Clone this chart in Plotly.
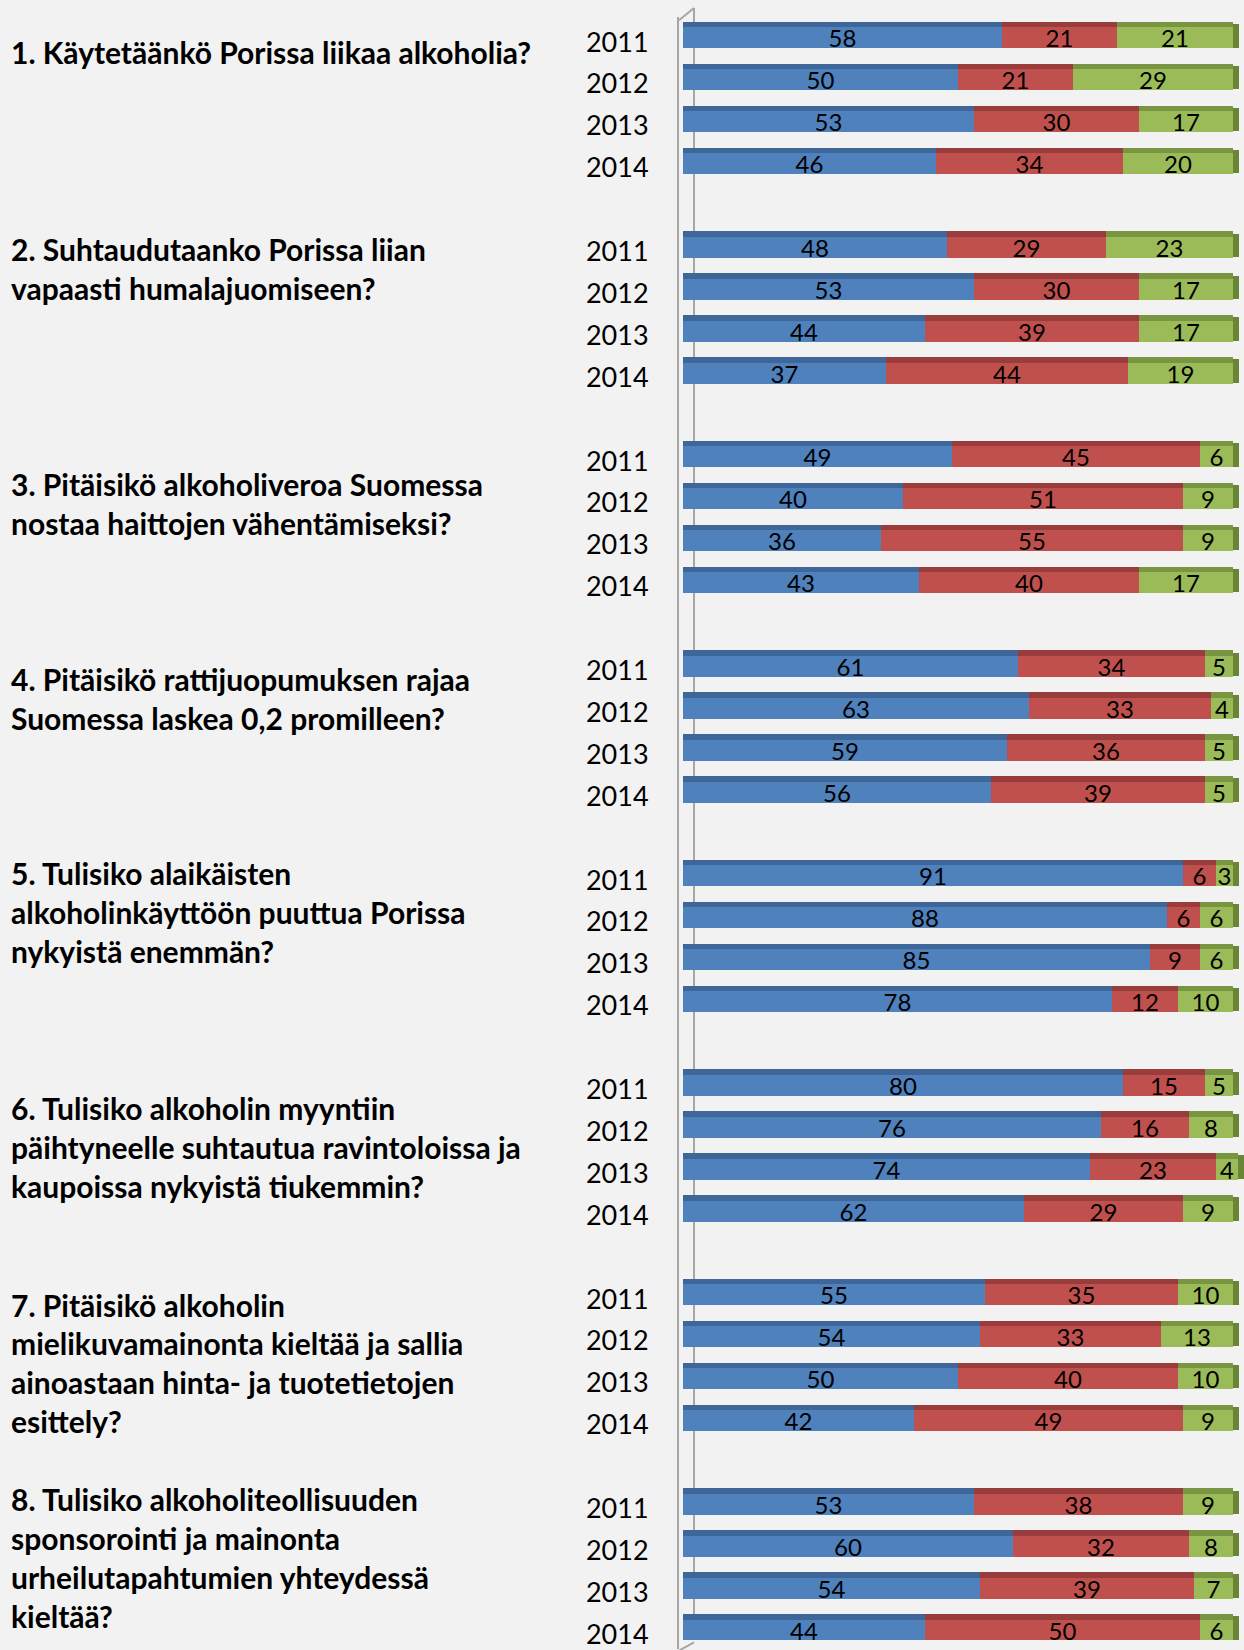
import plotly.graph_objects as go

# ---------------- data ----------------
years = ["2011", "2012", "2013", "2014"]
questions = [
    ["1. Käytetäänkö Porissa liikaa alkoholia?"],
    ["2. Suhtaudutaanko Porissa liian", "vapaasti humalajuomiseen?"],
    ["3. Pitäisikö alkoholiveroa Suomessa", "nostaa haittojen vähentämiseksi?"],
    ["4. Pitäisikö rattijuopumuksen rajaa", "Suomessa laskea 0,2 promilleen?"],
    ["5. Tulisiko alaikäisten", "alkoholinkäyttöön puuttua Porissa", "nykyistä enemmän?"],
    ["6. Tulisiko alkoholin myyntiin", "päihtyneelle suhtautua ravintoloissa ja", "kaupoissa nykyistä tiukemmin?"],
    ["7. Pitäisikö alkoholin", "mielikuvamainonta kieltää ja sallia", "ainoastaan hinta- ja tuotetietojen", "esittely?"],
    ["8. Tulisiko alkoholiteollisuuden", "sponsorointi ja mainonta", "urheilutapahtumien yhteydessä", "kieltää?"],
]
blue_vals = [
    [58, 50, 53, 46], [48, 53, 44, 37], [49, 40, 36, 43], [61, 63, 59, 56],
    [91, 88, 85, 78], [80, 76, 74, 62], [55, 54, 50, 42], [53, 60, 54, 44],
]
red_vals = [
    [21, 21, 30, 34], [29, 30, 39, 44], [45, 51, 55, 40], [34, 33, 36, 39],
    [6, 6, 9, 12], [15, 16, 23, 29], [35, 33, 40, 49], [38, 32, 39, 50],
]
green_vals = [
    [21, 29, 17, 20], [23, 17, 17, 19], [6, 9, 9, 17], [5, 4, 5, 5],
    [3, 6, 6, 10], [5, 8, 4, 9], [10, 13, 10, 9], [9, 8, 7, 6],
]

# ---------------- layout helpers ----------------
SLOTS_PER_GROUP = 5
q_first_line_slot = [0.24, 4.93, 10.54, 15.21, 19.84, 25.45, 30.13, 34.78]
LINE_GAP_PX = 38.8

slots, ylabels, blue, red, green = [], [], [], [], []
for g in range(len(questions)):
    for j, yr in enumerate(years):
        slots.append(g * SLOTS_PER_GROUP + j)
        ylabels.append(yr)
        blue.append(blue_vals[g][j])
        red.append(red_vals[g][j])
        green.append(green_vals[g][j])

base_red = [b for b in blue]
base_green = [b + r for b, r in zip(blue, red)]
totals = [b + r + gr for b, r, gr in zip(blue, red, green)]

series = [
    ("blue", blue, [0] * len(blue), "#4F81BD", "#3E6698"),
    ("red", red, base_red, "#C0504D", "#983D3B"),
    ("green", green, base_green, "#9BBB59", "#799541"),
]

FRONT_OFF, FRONT_W = -0.353, 0.50
TOP_OFF, TOP_W = -0.483, 0.13
font = "Lato, 'Open Sans', sans-serif"

fig = go.Figure()
for name, vals, base, col, dark in series:
    # top (3D) face
    fig.add_trace(go.Bar(
        y=slots, x=vals, base=base, orientation="h",
        width=TOP_W, offset=TOP_OFF,
        marker=dict(color=dark, line=dict(width=0)),
        hoverinfo="skip", showlegend=False,
    ))
    # front face
    fig.add_trace(go.Bar(
        y=slots, x=vals, base=base, orientation="h",
        width=FRONT_W, offset=FRONT_OFF,
        marker=dict(color=col, line=dict(width=0)),
        text=[str(v) for v in vals], textposition="inside",
        insidetextanchor="middle", textangle=0, constraintext="none",
        textfont=dict(family=font, size=24, color="black"),
        name=name, showlegend=False,
    ))

# right side face of the stack
fig.add_trace(go.Bar(
    y=slots, x=[1.2] * len(slots), base=totals, orientation="h",
    width=0.56, offset=-0.43,
    marker=dict(color="#6A8535", line=dict(width=0)),
    hoverinfo="skip", showlegend=False,
))

annotations = []
for g, lines in enumerate(questions):
    for i, line in enumerate(lines):
        annotations.append(dict(
            xref="paper", yref="y", x=-1.186, y=q_first_line_slot[g],
            yshift=-i * LINE_GAP_PX, xanchor="left", yanchor="middle",
            text=line, showarrow=False,
            font=dict(family=font, size=30, color="black", weight="bold"),
        ))

wall = "#A6A6A6"
shapes = [
    dict(type="line", xref="x", yref="paper", x0=2, x1=2, y0=0.006, y1=1.0055,
         line=dict(color=wall, width=2), layer="below"),
    dict(type="line", xref="x", yref="paper", x0=-0.73, x1=2, y0=0.998, y1=1.0055,
         line=dict(color=wall, width=2)),
    dict(type="line", xref="x", yref="paper", x0=-0.73, x1=2, y0=-0.001, y1=0.004,
         line=dict(color=wall, width=2)),
]

fig.update_layout(
    width=1244, height=1650,
    margin=dict(l=679, r=0, t=17, b=1),
    paper_bgcolor="#F2F2F2", plot_bgcolor="#F2F2F2",
    barmode="overlay", bargap=0,
    annotations=annotations, shapes=shapes,
    xaxis=dict(range=[-0.73, 102.07], showgrid=False, zeroline=False,
               showticklabels=False, showline=False, fixedrange=True),
    yaxis=dict(range=[38.35, -0.6], tickmode="array", tickvals=slots,
               ticktext=ylabels, showgrid=False, zeroline=False,
               showline=True, linecolor=wall, linewidth=2,
               ticks="", ticklabelstandoff=23,
               tickfont=dict(family=font, size=27, color="black")),
    font=dict(family=font),
)

fig.write_html(
    "out.html",
    config={"displayModeBar": False},
    post_script="document.body.style.margin='0';document.body.style.overflow='hidden';"
                "document.documentElement.style.overflow='hidden';",
)
